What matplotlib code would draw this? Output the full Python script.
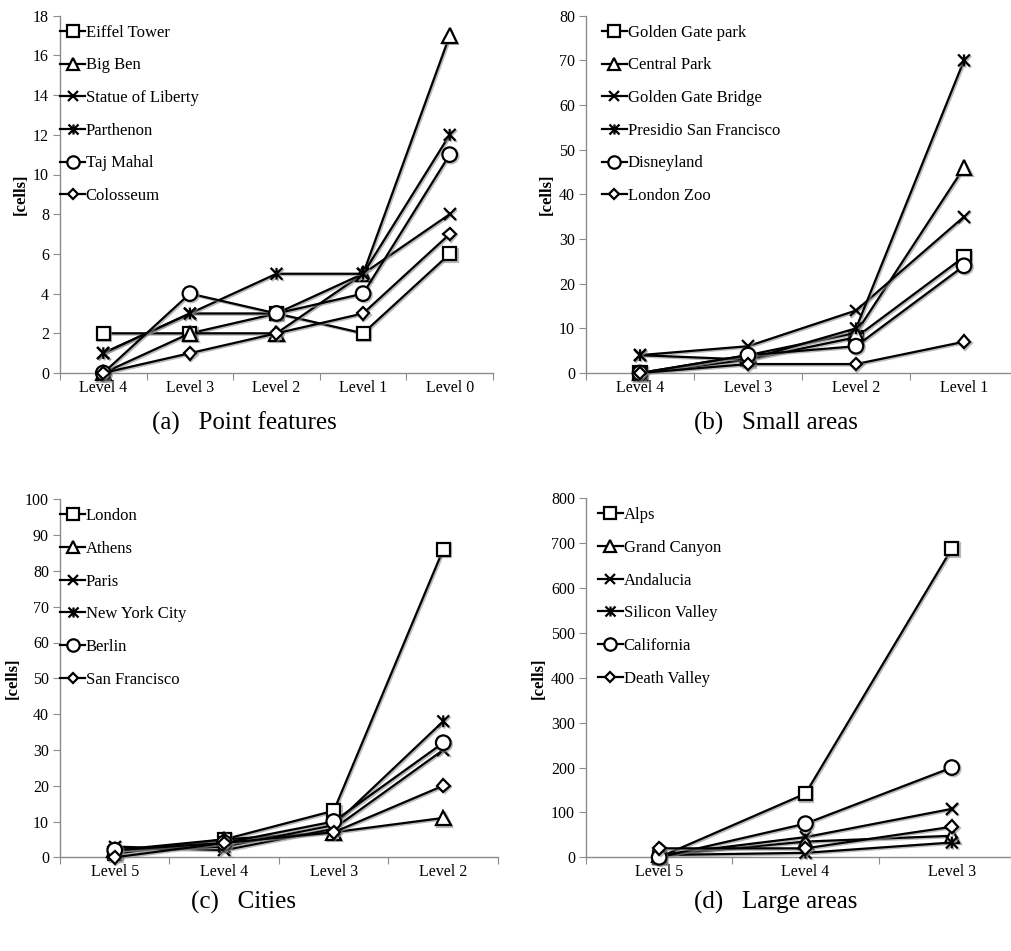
import matplotlib
matplotlib.use("Agg")
import matplotlib.pyplot as plt
from matplotlib.path import Path
from matplotlib.lines import Line2D
import matplotlib.patheffects as pe

plt.rcParams['font.family'] = ['Liberation Serif', 'DejaVu Serif']

# ---------------- data ----------------
levels_a = ["Level 4", "Level 3", "Level 2", "Level 1", "Level 0"]
names_a = ["Eiffel Tower", "Big Ben", "Statue of Liberty", "Parthenon", "Taj Mahal", "Colosseum"]
eiffel = [2, 2, 3, 2, 6]
bigben = [0, 2, 2, 5, 17]
liberty = [1, 3, 3, 5, 8]
parthenon = [1, 3, 5, 5, 12]
tajmahal = [0, 4, 3, 4, 11]
colosseum = [0, 1, 2, 3, 7]

levels_b = ["Level 4", "Level 3", "Level 2", "Level 1"]
names_b = ["Golden Gate park", "Central Park", "Golden Gate Bridge", "Presidio San Francisco", "Disneyland", "London Zoo"]
gg_park = [0, 3, 8, 26]
central_park = [0, 4, 9, 46]
gg_bridge = [4, 6, 14, 35]
presidio = [4, 3, 10, 70]
disneyland = [0, 4, 6, 24]
london_zoo = [0, 2, 2, 7]

levels_c = ["Level 5", "Level 4", "Level 3", "Level 2"]
names_c = ["London", "Athens", "Paris", "New York City", "Berlin", "San Francisco"]
london = [1, 5, 13, 86]
athens = [2, 5, 7, 11]
paris = [3, 2, 8, 30]
nyc = [2, 3, 9, 38]
berlin = [2, 4, 10, 32]
san_francisco = [0, 4, 7, 20]

levels_d = ["Level 5", "Level 4", "Level 3"]
names_d = ["Alps", "Grand Canyon", "Andalucia", "Silicon Valley", "California", "Death Valley"]
alps = [0, 142, 688]
grand_canyon = [5, 35, 48]
andalucia = [5, 45, 108]
silicon_valley = [5, 10, 33]
california = [0, 75, 200]
death_valley = [20, 20, 68]

# ---------------- styles ----------------
asterisk = Path([(-1, -1), (1, 1), (-1, 1), (1, -1), (0, -1), (0, 1)],
                [Path.MOVETO, Path.LINETO, Path.MOVETO, Path.LINETO, Path.MOVETO, Path.LINETO])
markers = [('s', 9.5), ('^', 10.5), ('x', 8.5), (asterisk, 8.5), ('o', 10.5), ('D', 6.5)]

W, H = 1012, 951
fig = plt.figure(figsize=(W / 100, H / 100), dpi=100)

def px_axes(left, right, top, bottom):
    return fig.add_axes([left / W, (H - bottom) / H, (right - left) / W, (bottom - top) / H])

shadow = [pe.SimpleLineShadow(offset=(1.0, -1.0), shadow_color='0.55', alpha=0.6), pe.Normal()]

def panel(ax, levels, series, names, ymax, ystep, leg_x, caption, cap_xy):
    n = len(levels)
    x = list(range(n))
    handles = []
    for vals, (m, ms) in zip(series, markers):
        ax.plot(x, vals, color='black', lw=1.6, marker=m, ms=ms,
                mfc='white', mec='black', mew=1.6, clip_on=False, zorder=3,
                path_effects=shadow)
        handles.append(Line2D([], [], color='black', lw=1.6, marker=m, ms=ms * 0.85,
                              mfc='white', mec='black', mew=1.6))
    ax.set_xlim(-0.5, n - 0.5)
    ax.set_ylim(0, ymax)
    ax.set_yticks(range(0, ymax + 1, ystep))
    ax.set_xticks([i - 0.5 for i in range(n + 1)])
    ax.set_xticklabels([])
    ax.set_xticks(x, minor=True)
    ax.set_xticklabels(levels, minor=True)
    ax.tick_params(axis='x', which='minor', length=0, pad=5, labelsize=11.5)
    ax.tick_params(axis='x', which='major', length=5, color='0.55', direction='out')
    ax.tick_params(axis='y', length=5, color='0.55', direction='out', labelsize=11.5, pad=3)
    for s in ['top', 'right']:
        ax.spines[s].set_visible(False)
    for s in ['left', 'bottom']:
        ax.spines[s].set_color('0.55')
        ax.spines[s].set_linewidth(1.0)
    ax.set_ylabel('[cells]', fontweight='bold', fontsize=12, labelpad=3)
    h_px = ax.get_position().height * H
    ax.legend(handles, names, loc='upper left', bbox_to_anchor=(leg_x, 1.0 - 9.0 / h_px),
              frameon=False, prop={'size': 12}, handlelength=1.5,
              handletextpad=0.05, labelspacing=1.0, borderaxespad=0.0, borderpad=0.0)
    fig.text(cap_xy[0] / W, 1 - cap_xy[1] / H, caption, ha='center', va='center', fontsize=18)

ax_a = px_axes(60, 493, 15.7, 373)
panel(ax_a, levels_a, [eiffel, bigben, liberty, parthenon, tajmahal, colosseum], names_a,
      18, 2, 0.0, "(a)   Point features", (244, 423))

ax_b = px_axes(586, 1018, 15.7, 373)
panel(ax_b, levels_b, [gg_park, central_park, gg_bridge, presidio, disneyland, london_zoo], names_b,
      80, 10, 0.037, "(b)   Small areas", (776, 423))

ax_c = px_axes(60, 498, 499.3, 857.3)
panel(ax_c, levels_c, [london, athens, paris, nyc, berlin, san_francisco], names_c,
      100, 10, 0.0, "(c)   Cities", (244, 902))

ax_d = px_axes(586, 1025, 498.3, 857.3)
panel(ax_d, levels_d, [alps, grand_canyon, andalucia, silicon_valley, california, death_valley], names_d,
      800, 100, 0.027, "(d)   Large areas", (776, 902))

fig.savefig("out.png", dpi=100)
